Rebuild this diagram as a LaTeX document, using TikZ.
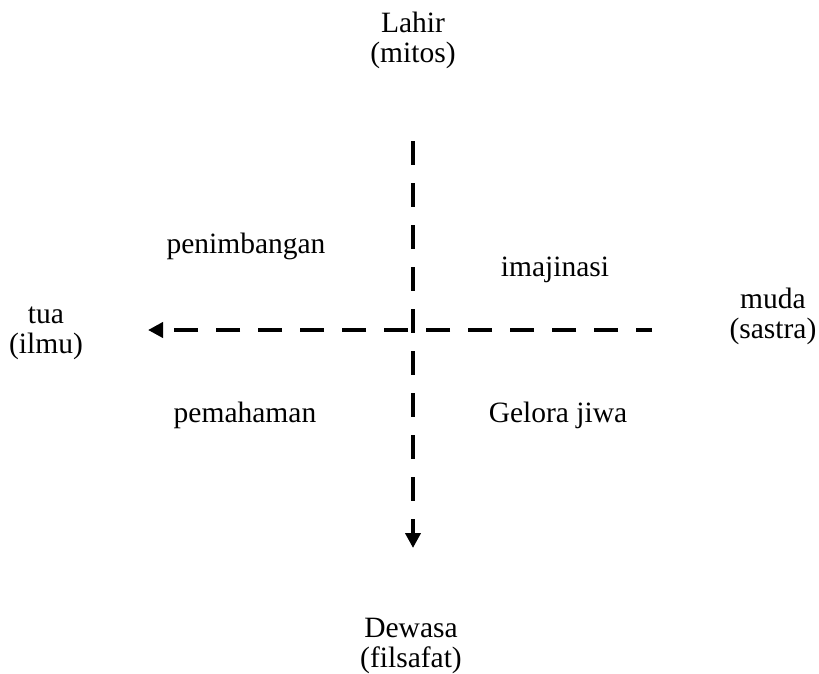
\documentclass[tikz,border=0pt]{standalone}
\usepackage{fontspec}
\setmainfont{Liberation Serif}
\usetikzlibrary{arrows.meta}
\begin{document}
\begin{tikzpicture}[x=1pt,y=-1pt,
  lbl/.style={align=center,inner sep=0pt,font=\fontsize{29.5}{30}\selectfont},
  axis/.style={line width=4.5pt,dash pattern=on 24pt off 18pt,-{Triangle[length=15pt,width=15pt]}}]
\useasboundingbox (0,0) rectangle (819,673);
\node[lbl] (top) at (413,40) {Lahir\\(mitos)};
\node[lbl] (left) at (46,333) {tua\\(ilmu)};
\node[lbl] (right) at (773,316) {muda\\(sastra)};
\node[lbl] (bot) at (411,646) {Dewasa\\(filsafat)};
\node[lbl] (q1) at (246,246) {penimbangan};
\node[lbl] (q2) at (555,270) {imajinasi};
\node[lbl] (q3) at (245,415) {pemahaman};
\node[lbl] (q4) at (558,415) {Gelora jiwa};
\coordinate (vs) at (413,141);
\coordinate (ve) at (413,548);
\coordinate (hs) at (652,330);
\coordinate (he) at (148,330);
\draw[axis] (vs) -- (ve);
\draw[axis,dash phase=8pt] (hs) -- (he);
\end{tikzpicture}
\end{document}
